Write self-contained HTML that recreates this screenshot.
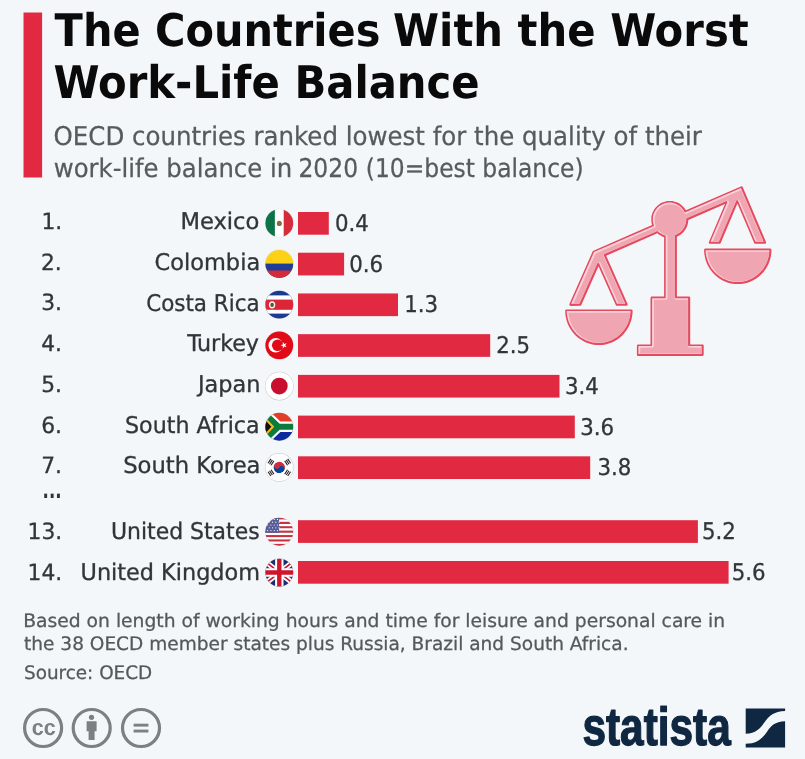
<!DOCTYPE html>
<html lang="en"><head><meta charset="utf-8"><title>The Countries With the Worst Work-Life Balance</title>
<style>html,body{margin:0;padding:0;background:#f4f7fa;}svg{display:block}text{white-space:pre}</style></head>
<body>
<svg width="805" height="759" viewBox="0 0 805 759">
<rect width="805" height="759" fill="#f4f7fa"/>
<rect x="23.5" y="12.5" width="18.6" height="165" fill="#e12a42"/>
<rect x="298.0" y="212.00" width="30.8" height="22.7" fill="#e12a42"/>
<rect x="298.0" y="252.72" width="46.1" height="22.7" fill="#e12a42"/>
<rect x="298.0" y="293.44" width="100.0" height="22.7" fill="#e12a42"/>
<rect x="298.0" y="334.16" width="192.2" height="22.7" fill="#e12a42"/>
<rect x="298.0" y="374.88" width="261.5" height="22.7" fill="#e12a42"/>
<rect x="298.0" y="415.60" width="276.8" height="22.7" fill="#e12a42"/>
<rect x="298.0" y="456.32" width="292.2" height="22.7" fill="#e12a42"/>
<rect x="298.0" y="520.20" width="399.9" height="22.7" fill="#e12a42"/>
<rect x="298.0" y="561.00" width="430.6" height="22.7" fill="#e12a42"/>
<clipPath id="fc0"><circle cx="279.3" cy="223.15" r="13.9"/></clipPath><circle cx="279.3" cy="223.15" r="14.35" fill="#e0e4e7"/><g clip-path="url(#fc0)"><rect x="264.95" y="208.8" width="28.7" height="28.7" fill="#fff"/><rect x="264.95" y="208.8" width="9.9" height="28.7" fill="#0b7347"/><rect x="283.7" y="208.8" width="10" height="28.7" fill="#d52b3a"/><ellipse cx="279.3" cy="223.45000000000002" rx="2.5" ry="2.6" fill="#8a6a3a"/></g>
<clipPath id="fc1"><circle cx="279.3" cy="263.87" r="13.9"/></clipPath><circle cx="279.3" cy="263.87" r="14.35" fill="#e0e4e7"/><g clip-path="url(#fc1)"><rect x="264.95" y="249.52" width="28.7" height="28.7" fill="#fcd116"/><rect x="264.95" y="263.6" width="28.7" height="15.35" fill="#1f3d99"/><rect x="264.95" y="270.5" width="28.7" height="14.35" fill="#d42b3b"/></g>
<clipPath id="fc2"><circle cx="279.3" cy="304.59000000000003" r="13.9"/></clipPath><circle cx="279.3" cy="304.59000000000003" r="14.35" fill="#e0e4e7"/><g clip-path="url(#fc2)"><rect x="264.95" y="290.24" width="28.7" height="28.7" fill="#1b3a91"/><rect x="264.95" y="295.4" width="28.7" height="18.2" fill="#fff"/><rect x="264.95" y="299.6" width="28.7" height="10.2" fill="#dc2638"/><ellipse cx="272.1" cy="304.8" rx="3.2" ry="3.6" fill="#f3f3ee"/><ellipse cx="272.1" cy="304.9" rx="1.8" ry="2.1" fill="#4a5a3a"/></g>
<clipPath id="fc3"><circle cx="279.3" cy="345.31" r="13.9"/></clipPath><circle cx="279.3" cy="345.31" r="14.35" fill="#e0e4e7"/><g clip-path="url(#fc3)"><rect x="264.95" y="330.96" width="28.7" height="28.7" fill="#e30a17"/><circle cx="275.7" cy="345.31" r="7.2" fill="#fff"/><circle cx="277.7" cy="345.31" r="5.8" fill="#e30a17"/><polygon transform="translate(283.9,345.31) scale(3.4) rotate(-18)" points="0,-1 0.2245,-0.309 0.951,-0.309 0.363,0.118 0.588,0.809 0,0.382 -0.588,0.809 -0.363,0.118 -0.951,-0.309 -0.2245,-0.309" fill="#fff"/></g>
<clipPath id="fc4"><circle cx="279.3" cy="386.03000000000003" r="13.9"/></clipPath><circle cx="279.3" cy="386.03000000000003" r="14.35" fill="#c4c9cd"/><g clip-path="url(#fc4)"><rect x="264.95" y="371.68" width="28.7" height="28.7" fill="#fff"/><circle cx="279.3" cy="386.03000000000003" r="8.4" fill="#c8102e"/></g>
<clipPath id="fc5"><circle cx="279.3" cy="426.75000000000006" r="13.9"/></clipPath><circle cx="279.3" cy="426.75000000000006" r="14.35" fill="#e0e4e7"/><g clip-path="url(#fc5)"><rect x="264.95" y="412.40000000000003" width="28.7" height="14.35" fill="#e23d28"/><rect x="264.95" y="426.75000000000006" width="28.7" height="14.35" fill="#0c2c9c"/><path d="M258.95,408.40000000000003 L278.3,426.75000000000006 L258.95,445.1 M278.3,426.75000000000006 H295.65" stroke="#fff" stroke-width="10.5" fill="none"/><path d="M258.95,408.40000000000003 L278.3,426.75000000000006 L258.95,445.1 M278.3,426.75000000000006 H295.65" stroke="#0a7a3d" stroke-width="6.2" fill="none"/><path d="M262.95,415.90000000000003 L272.8,426.75000000000006 L262.95,437.6 Z" fill="#111" stroke="#fdb913" stroke-width="2"/></g>
<clipPath id="fc6"><circle cx="279.3" cy="467.47" r="13.9"/></clipPath><circle cx="279.3" cy="467.47" r="14.35" fill="#c4c9cd"/><g clip-path="url(#fc6)"><rect x="264.95" y="453.12" width="28.7" height="28.7" fill="#fff"/><g transform="rotate(33 279.3 467.47)"><path d="M273.7,467.47 a5.6,5.6 0 0 1 11.2,0 z" fill="#cd2e3a"/><path d="M273.7,467.47 a5.6,5.6 0 0 0 11.2,0 z" fill="#0047a0"/><circle cx="276.5" cy="467.47" r="2.8" fill="#cd2e3a"/><circle cx="282.1" cy="467.47" r="2.8" fill="#0047a0"/></g><g transform="rotate(33 279.3 467.47)"><rect x="286.90000000000003" y="464.87" width="1.1" height="5.2" fill="#222"/><rect x="288.7" y="464.87" width="1.1" height="5.2" fill="#222"/><rect x="290.5" y="464.87" width="1.1" height="5.2" fill="#222"/></g><g transform="rotate(147 279.3 467.47)"><rect x="286.90000000000003" y="464.87" width="1.1" height="5.2" fill="#222"/><rect x="288.7" y="464.87" width="1.1" height="5.2" fill="#222"/><rect x="290.5" y="464.87" width="1.1" height="5.2" fill="#222"/></g><g transform="rotate(213 279.3 467.47)"><rect x="286.90000000000003" y="464.87" width="1.1" height="5.2" fill="#222"/><rect x="288.7" y="464.87" width="1.1" height="5.2" fill="#222"/><rect x="290.5" y="464.87" width="1.1" height="5.2" fill="#222"/></g><g transform="rotate(327 279.3 467.47)"><rect x="286.90000000000003" y="464.87" width="1.1" height="5.2" fill="#222"/><rect x="288.7" y="464.87" width="1.1" height="5.2" fill="#222"/><rect x="290.5" y="464.87" width="1.1" height="5.2" fill="#222"/></g></g>
<clipPath id="fc7"><circle cx="279.3" cy="531.75" r="13.9"/></clipPath><circle cx="279.3" cy="531.75" r="14.35" fill="#e0e4e7"/><g clip-path="url(#fc7)"><rect x="264.95" y="517.40" width="28.7" height="2.21" fill="#c8313e"/><rect x="264.95" y="519.61" width="28.7" height="2.21" fill="#fff"/><rect x="264.95" y="521.82" width="28.7" height="2.21" fill="#c8313e"/><rect x="264.95" y="524.02" width="28.7" height="2.21" fill="#fff"/><rect x="264.95" y="526.23" width="28.7" height="2.21" fill="#c8313e"/><rect x="264.95" y="528.44" width="28.7" height="2.21" fill="#fff"/><rect x="264.95" y="530.65" width="28.7" height="2.21" fill="#c8313e"/><rect x="264.95" y="532.85" width="28.7" height="2.21" fill="#fff"/><rect x="264.95" y="535.06" width="28.7" height="2.21" fill="#c8313e"/><rect x="264.95" y="537.27" width="28.7" height="2.21" fill="#fff"/><rect x="264.95" y="539.48" width="28.7" height="2.21" fill="#c8313e"/><rect x="264.95" y="541.68" width="28.7" height="2.21" fill="#fff"/><rect x="264.95" y="543.89" width="28.7" height="2.21" fill="#c8313e"/><rect x="264.95" y="517.4" width="14.15" height="15.45" fill="#585c99"/><circle cx="267.6" cy="519.4" r="0.6" fill="#fff"/><circle cx="270.9" cy="519.4" r="0.6" fill="#fff"/><circle cx="274.2" cy="519.4" r="0.6" fill="#fff"/><circle cx="277.4" cy="519.4" r="0.6" fill="#fff"/><circle cx="269.2" cy="522.2" r="0.6" fill="#fff"/><circle cx="272.5" cy="522.2" r="0.6" fill="#fff"/><circle cx="275.8" cy="522.2" r="0.6" fill="#fff"/><circle cx="279.1" cy="522.2" r="0.6" fill="#fff"/><circle cx="267.6" cy="525.0" r="0.6" fill="#fff"/><circle cx="270.9" cy="525.0" r="0.6" fill="#fff"/><circle cx="274.2" cy="525.0" r="0.6" fill="#fff"/><circle cx="277.4" cy="525.0" r="0.6" fill="#fff"/><circle cx="269.2" cy="527.8" r="0.6" fill="#fff"/><circle cx="272.5" cy="527.8" r="0.6" fill="#fff"/><circle cx="275.8" cy="527.8" r="0.6" fill="#fff"/><circle cx="279.1" cy="527.8" r="0.6" fill="#fff"/><circle cx="267.6" cy="530.6" r="0.6" fill="#fff"/><circle cx="270.9" cy="530.6" r="0.6" fill="#fff"/><circle cx="274.2" cy="530.6" r="0.6" fill="#fff"/><circle cx="277.4" cy="530.6" r="0.6" fill="#fff"/></g>
<clipPath id="fc8"><circle cx="279.3" cy="572.55" r="13.9"/></clipPath><circle cx="279.3" cy="572.55" r="14.35" fill="#e0e4e7"/><g clip-path="url(#fc8)"><rect x="264.95" y="558.1999999999999" width="28.7" height="28.7" fill="#1b2d6e"/><path d="M264.95,561.1999999999999 L293.65,583.9 M293.65,561.1999999999999 L264.95,583.9" stroke="#fff" stroke-width="5.2"/><path d="M264.95,561.1999999999999 L293.65,583.9 M293.65,561.1999999999999 L264.95,583.9" stroke="#d0142c" stroke-width="1.6"/><path d="M279.3,558.1999999999999 V586.9 M264.95,572.55 H293.65" stroke="#fff" stroke-width="8.4"/><path d="M279.3,558.1999999999999 V586.9 M264.95,572.55 H293.65" stroke="#d0142c" stroke-width="4.4"/></g>
<g id="scale" fill-rule="evenodd"><path d="M593.4,250.7 L593.0,251.0 L592.7,251.3 L569.4,304.0 L569.3,304.6 L569.5,305.2 L570.0,305.7 L570.7,305.9 L580.2,305.8 L580.7,305.7 L581.2,305.3 L598.5,266.2 L615.9,305.3 L616.3,305.7 L616.9,305.8 L626.6,305.8 L627.2,305.6 L627.6,305.2 L627.7,304.6 L627.6,304.0 L606.2,255.7 L657.4,233.3 L659.1,234.7 L660.7,235.6 L662.3,236.5 L664.1,237.2 L664.1,296.5 L651.8,296.6 L651.4,296.6 L651.1,296.8 L650.7,297.3 L650.5,297.9 L650.5,344.4 L638.2,344.4 L637.8,344.5 L637.4,344.7 L637.0,345.2 L636.9,345.8 L636.9,354.6 L636.9,355.0 L637.1,355.4 L637.4,355.7 L637.8,355.9 L638.2,356.0 L702.4,355.9 L703.0,355.8 L703.3,355.6 L703.6,355.2 L703.7,354.7 L703.7,345.8 L703.6,345.2 L703.3,344.8 L703.0,344.6 L702.4,344.5 L690.2,344.4 L690.2,297.9 L690.1,297.3 L689.7,296.8 L689.4,296.6 L689.0,296.6 L676.9,296.5 L676.9,236.7 L678.1,236.1 L679.3,235.4 L680.5,234.7 L681.6,233.8 L682.6,232.9 L683.5,232.0 L685.2,229.8 L685.9,228.6 L686.6,227.4 L687.5,224.9 L687.9,223.6 L688.1,222.2 L688.3,219.9 L725.0,203.9 L708.8,242.3 L708.8,242.8 L709.0,243.3 L709.4,243.7 L709.9,243.8 L719.4,243.8 L720.1,243.7 L720.4,243.4 L720.7,243.0 L737.4,203.5 L754.3,243.3 L754.7,243.7 L755.3,243.8 L764.8,243.8 L765.3,243.7 L765.7,243.4 L766.0,243.0 L766.1,242.4 L766.0,242.0 L742.7,187.1 L742.5,186.7 L742.2,186.5 L741.8,186.3 L741.4,186.3 L740.9,186.4 L685.9,210.3 L685.0,208.8 L683.9,207.4 L682.9,206.4 L681.6,205.2 L680.1,204.1 L678.6,203.1 L677.3,202.5 L675.6,201.9 L673.9,201.4 L672.5,201.1 L670.7,201.0 L668.9,201.0 L667.1,201.1 L665.7,201.4 L664.0,201.9 L662.3,202.5 L661.0,203.1 L659.5,204.1 L658.0,205.2 L656.7,206.4 L655.5,207.7 L654.6,208.8 L653.7,210.4 L652.8,212.0 L652.3,213.3 L651.8,215.0 L651.4,216.8 L651.3,218.6 L651.3,220.0 L651.4,221.8 L651.7,223.5 L652.1,225.1Z" fill="#e54a5f"/><path d="M571.1,303.8 L579.4,303.8 L597.3,263.5 L597.7,263.0 L598.2,262.9 L598.7,263.0 L599.1,263.5 L617.0,303.8 L625.3,303.8 L603.9,255.4 L603.8,255.0 L603.9,254.7 L604.1,254.3 L604.4,254.1 L656.9,231.2 L657.3,231.1 L657.7,231.2 L659.6,232.7 L661.3,233.8 L663.1,234.7 L665.2,235.5 L665.5,235.8 L665.7,236.2 L665.7,297.4 L665.4,297.9 L665.2,298.1 L664.8,298.2 L652.1,298.2 L652.1,345.3 L651.8,345.8 L651.6,346.0 L651.2,346.1 L638.4,346.1 L638.4,353.9 L701.6,353.9 L701.6,346.1 L689.0,346.1 L688.6,346.0 L688.4,345.8 L688.1,345.3 L688.1,298.2 L675.6,298.2 L675.2,298.1 L675.0,297.9 L674.7,297.4 L674.7,235.7 L674.9,235.3 L675.2,235.0 L676.6,234.4 L677.7,233.8 L679.1,233.0 L680.1,232.2 L681.9,230.5 L683.4,228.6 L684.6,226.4 L685.5,224.1 L686.0,221.8 L686.2,220.5 L686.2,218.9 L686.4,218.6 L686.6,218.3 L725.9,201.2 L726.5,201.1 L726.9,201.3 L727.1,201.6 L727.3,202.0 L727.2,202.5 L710.5,241.8 L718.8,241.8 L736.2,200.7 L736.3,200.5 L736.6,200.2 L737.2,200.1 L737.7,200.3 L738.0,200.7 L755.4,241.8 L763.7,241.8 L740.9,188.1 L685.5,212.2 L685.0,212.2 L684.5,211.9 L683.4,210.0 L682.4,208.7 L681.0,207.2 L679.8,206.1 L678.4,205.2 L677.0,204.4 L675.5,203.7 L674.0,203.2 L672.4,202.8 L670.7,202.6 L668.7,202.6 L667.0,202.8 L665.0,203.2 L663.5,203.7 L662.0,204.4 L660.2,205.4 L659.2,206.1 L658.0,207.2 L657.1,208.1 L656.1,209.4 L655.4,210.4 L654.6,211.8 L653.6,214.1 L653.0,216.4 L652.8,218.9 L652.8,220.5 L653.0,222.2 L653.3,223.4 L653.9,225.3 L653.8,225.8 L653.4,226.2 L594.0,252.1Z" fill="#f9d3d9"/><path d="M579.6,303.4 L597.2,263.6 L597.5,263.1 L597.9,262.7 L598.4,262.5 L599.0,262.4 L599.6,262.5 L600.1,262.7 L600.5,263.1 L600.8,263.6 L618.5,303.4 L624.6,303.4 L603.8,256.4 L603.6,255.6 L603.6,255.2 L603.8,254.7 L604.3,254.0 L604.8,253.7 L657.3,230.8 L658.1,230.7 L658.8,230.8 L659.3,231.1 L661.3,232.7 L662.6,233.5 L664.3,234.4 L666.6,235.2 L667.2,235.8 L667.3,236.1 L667.5,236.7 L667.5,298.1 L667.3,298.7 L666.9,299.2 L666.4,299.5 L665.7,299.7 L653.9,299.8 L653.9,345.7 L653.8,346.2 L653.6,346.8 L653.2,347.2 L652.7,347.5 L652.1,347.6 L640.2,347.7 L640.2,353.5 L701.4,353.5 L701.4,347.7 L689.7,347.6 L689.1,347.5 L688.6,347.2 L688.2,346.8 L688.0,346.2 L687.9,345.7 L687.9,299.8 L676.3,299.7 L675.6,299.5 L675.1,299.2 L674.7,298.7 L674.5,298.1 L674.5,236.0 L674.9,235.3 L675.3,234.8 L677.4,233.9 L678.4,233.3 L679.6,232.5 L680.6,231.7 L681.9,230.4 L683.4,228.6 L684.3,226.9 L685.2,224.8 L685.5,223.7 L685.8,222.2 L686.1,219.1 L686.4,218.4 L686.9,218.0 L726.3,200.8 L726.8,200.6 L727.4,200.7 L728.2,201.0 L728.7,201.5 L729.0,202.2 L729.1,202.6 L729.0,203.2 L712.9,241.3 L718.9,241.3 L736.1,200.9 L736.4,200.4 L737.0,199.9 L737.5,199.7 L738.1,199.7 L738.7,199.8 L739.0,200.0 L739.4,200.4 L739.7,200.9 L756.9,241.3 L763.0,241.3 L741.2,189.9 L686.5,213.7 L685.9,213.8 L685.5,213.7 L685.1,213.5 L684.6,213.2 L683.4,211.1 L682.4,209.9 L681.1,208.5 L679.7,207.2 L678.7,206.6 L677.4,205.8 L676.0,205.2 L674.5,204.7 L672.6,204.3 L671.1,204.2 L669.5,204.2 L667.6,204.4 L666.1,204.7 L664.3,205.3 L662.6,206.2 L661.3,207.0 L659.5,208.5 L658.7,209.3 L657.7,210.5 L657.0,211.4 L656.3,212.8 L655.8,213.8 L655.3,215.3 L655.0,216.4 L654.7,217.9 L654.6,220.2 L654.8,222.5 L655.2,224.0 L655.6,225.4 L655.7,226.0 L655.6,226.4 L655.4,226.9 L654.8,227.5 L595.6,253.4 L573.5,303.4Z" fill="#f0a6b2"/><path d="M565.2,311.1 L565.4,314.5 L566.0,317.9 L566.8,321.2 L568.0,324.4 L569.5,327.4 L571.3,330.3 L573.3,333.0 L575.6,335.4 L578.1,337.7 L580.8,339.6 L583.7,341.3 L586.0,342.4 L589.1,343.6 L592.3,344.4 L595.6,344.9 L598.9,345.0 L602.2,344.9 L605.5,344.4 L608.7,343.6 L611.8,342.4 L614.8,340.9 L617.7,339.2 L620.3,337.2 L622.8,334.9 L625.0,332.3 L627.0,329.6 L628.7,326.7 L630.1,323.6 L631.2,320.4 L632.0,317.1 L632.5,313.7 L632.6,310.8 L632.6,310.3 L632.3,309.9 L631.9,309.6 L631.3,309.4 L566.5,309.4 L565.9,309.6 L565.4,310.0 L565.2,310.5Z" fill="#e54a5f"/><path d="M566.7,311.1 L566.9,314.1 L567.5,317.3 L568.3,320.4 L569.4,323.4 L570.9,326.3 L572.5,329.1 L574.5,331.6 L576.6,333.9 L578.4,335.5 L580.9,337.5 L583.6,339.1 L586.4,340.5 L589.3,341.6 L592.4,342.4 L595.5,342.8 L598.6,343.0 L601.7,342.8 L604.8,342.4 L607.9,341.6 L610.8,340.5 L613.6,339.1 L616.3,337.5 L618.8,335.5 L620.6,333.9 L622.7,331.6 L624.7,329.1 L626.3,326.3 L627.8,323.4 L628.9,320.4 L629.7,317.3 L630.3,314.1 L630.5,311.1Z" fill="#f9d3d9"/><path d="M568.6,312.7 L568.8,315.3 L569.4,318.4 L570.3,321.4 L571.5,324.3 L572.5,326.4 L574.1,329.0 L576.0,331.5 L578.1,333.8 L579.8,335.3 L582.3,337.2 L584.9,338.8 L587.6,340.1 L590.4,341.2 L593.4,341.9 L596.4,342.4 L599.4,342.5 L602.4,342.4 L605.4,341.9 L608.3,341.2 L611.2,340.1 L613.9,338.8 L616.5,337.2 L619.0,335.3 L620.7,333.8 L622.8,331.5 L624.6,329.0 L626.3,326.4 L627.3,324.3 L628.5,321.4 L629.4,318.4 L630.0,315.3 L630.2,312.7Z" fill="#f0a6b2"/><path d="M704.1,250.2 L704.3,253.6 L704.9,257.0 L705.7,260.3 L706.9,263.5 L708.4,266.5 L710.2,269.4 L712.2,272.1 L714.5,274.5 L717.0,276.8 L719.7,278.7 L722.6,280.4 L724.9,281.5 L728.0,282.7 L731.2,283.5 L734.5,284.0 L737.8,284.1 L741.1,284.0 L744.4,283.5 L747.6,282.7 L750.7,281.5 L753.7,280.0 L756.6,278.3 L759.2,276.3 L761.7,274.0 L763.9,271.4 L765.9,268.7 L767.6,265.8 L769.0,262.7 L770.1,259.5 L770.9,256.2 L771.4,252.8 L771.5,249.9 L771.5,249.4 L771.2,249.0 L770.8,248.7 L770.2,248.6 L705.4,248.6 L704.8,248.7 L704.3,249.1 L704.1,249.6Z" fill="#e54a5f"/><path d="M705.6,250.2 L705.8,253.2 L706.4,256.4 L707.2,259.5 L708.3,262.5 L709.8,265.4 L711.4,268.2 L713.4,270.7 L715.5,273.0 L717.3,274.6 L719.8,276.6 L722.5,278.2 L725.3,279.6 L728.2,280.7 L731.3,281.5 L734.4,281.9 L737.5,282.1 L740.6,281.9 L743.7,281.5 L746.8,280.7 L749.7,279.6 L752.5,278.2 L755.2,276.6 L757.7,274.6 L759.5,273.0 L761.6,270.7 L763.6,268.2 L765.2,265.4 L766.7,262.5 L767.8,259.5 L768.6,256.4 L769.2,253.2 L769.4,250.2Z" fill="#f9d3d9"/><path d="M707.5,251.8 L707.7,254.4 L708.3,257.5 L709.2,260.5 L710.4,263.4 L711.4,265.5 L713.0,268.1 L714.9,270.6 L717.0,272.9 L718.7,274.4 L721.2,276.3 L723.8,277.9 L726.5,279.2 L729.3,280.3 L732.3,281.0 L735.3,281.5 L738.3,281.6 L741.3,281.5 L744.3,281.0 L747.2,280.3 L750.1,279.2 L752.8,277.9 L755.4,276.3 L757.9,274.4 L759.6,272.9 L761.7,270.6 L763.5,268.1 L765.2,265.5 L766.2,263.4 L767.4,260.5 L768.3,257.5 L768.9,254.4 L769.1,251.8Z" fill="#f0a6b2"/></g>
<circle cx="43.1" cy="728" r="18.5" fill="none" stroke="#7b8080" stroke-width="3.2"/><circle cx="91.7" cy="728" r="18.5" fill="none" stroke="#7b8080" stroke-width="3.2"/><circle cx="141.0" cy="728" r="18.5" fill="none" stroke="#7b8080" stroke-width="3.2"/><circle cx="91.5" cy="717.3" r="2.6" fill="#7b8080"/><path d="M86.6,721.3 H96.6 V731.2 H94.6 V740 H88.6 V731.2 H86.6 Z" fill="#7b8080"/><rect x="133.6" y="723.7" width="14.8" height="2.9" fill="#7b8080"/><rect x="133.6" y="729.6" width="14.8" height="2.9" fill="#7b8080"/>
<g transform="translate(745.7,708.4)"><path d="M0,0 H39.4 V2.5 C28,3 24.5,7 20.5,11.5 C16,17.5 12,25.3 0,25.3 Z" fill="#0f2741"/><path d="M39.4,39.1 H0 V35.3 C12,35.3 17.5,29 21.5,23 C25.5,17.5 29,13.2 39.4,12.9 Z" fill="#0f2741"/></g>
<g id="texts" text-rendering="geometricPrecision">
<text id="t1a" x="54.60" y="46.00" textLength="325.77" lengthAdjust="spacingAndGlyphs" font-family="'DejaVu Sans Condensed','DejaVu Sans','Liberation Sans',sans-serif" font-size="45" font-weight="bold" fill="#0a0a0a">The Countries</text>
<text id="t1b" x="393.00" y="46.00" textLength="355.74" lengthAdjust="spacingAndGlyphs" font-family="'DejaVu Sans Condensed','DejaVu Sans','Liberation Sans',sans-serif" font-size="45" font-weight="bold" fill="#0a0a0a">With the Worst</text>
<text id="t2" x="53.60" y="98.10" textLength="426.12" lengthAdjust="spacingAndGlyphs" font-family="'DejaVu Sans Condensed','DejaVu Sans','Liberation Sans',sans-serif" font-size="45" font-weight="bold" fill="#0a0a0a">Work-Life Balance</text>
<text id="s1" x="53.60" y="144.80" textLength="648.34" lengthAdjust="spacingAndGlyphs" font-family="'DejaVu Sans Condensed','DejaVu Sans','Liberation Sans',sans-serif" font-size="25.8" font-weight="normal" fill="#555b5f" stroke="#555b5f" stroke-width="0.25" stroke-linejoin="round">OECD countries ranked lowest for the quality of their</text>
<text id="s2a" x="53.80" y="177.10" textLength="238.37" lengthAdjust="spacingAndGlyphs" font-family="'DejaVu Sans Condensed','DejaVu Sans','Liberation Sans',sans-serif" font-size="25.8" font-weight="normal" fill="#555b5f" stroke="#555b5f" stroke-width="0.25" stroke-linejoin="round">work-life balance in</text>
<text id="s2b" x="298.40" y="177.10" textLength="59.71" lengthAdjust="spacingAndGlyphs" font-family="'DejaVu Sans Condensed','DejaVu Sans','Liberation Sans',sans-serif" font-size="25.8" font-weight="normal" fill="#555b5f" stroke="#555b5f" stroke-width="0.25" stroke-linejoin="round">2020</text>
<text id="s2c" x="365.80" y="177.10" textLength="217.79" lengthAdjust="spacingAndGlyphs" font-family="'DejaVu Sans Condensed','DejaVu Sans','Liberation Sans',sans-serif" font-size="25.8" font-weight="normal" fill="#555b5f" stroke="#555b5f" stroke-width="0.25" stroke-linejoin="round">(10=best balance)</text>
<text id="r0" x="41.40" y="229.00" textLength="20.76" lengthAdjust="spacingAndGlyphs" font-family="'DejaVu Sans Condensed','DejaVu Sans','Liberation Sans',sans-serif" font-size="22.4" font-weight="normal" fill="#30353a" stroke="#30353a" stroke-width="0.3" stroke-linejoin="round">1.</text>
<text id="n0" x="180.40" y="229.10" textLength="78.93" lengthAdjust="spacingAndGlyphs" font-family="'DejaVu Sans Condensed','DejaVu Sans','Liberation Sans',sans-serif" font-size="23" font-weight="normal" fill="#30353a" stroke="#30353a" stroke-width="0.3" stroke-linejoin="round">Mexico</text>
<text id="v0" x="335.00" y="230.90" textLength="33.87" lengthAdjust="spacingAndGlyphs" font-family="'DejaVu Sans Condensed','DejaVu Sans','Liberation Sans',sans-serif" font-size="23" font-weight="normal" fill="#30353a" stroke="#30353a" stroke-width="0.3" stroke-linejoin="round">0.4</text>
<text id="r1" x="41.00" y="269.72" textLength="20.76" lengthAdjust="spacingAndGlyphs" font-family="'DejaVu Sans Condensed','DejaVu Sans','Liberation Sans',sans-serif" font-size="22.4" font-weight="normal" fill="#30353a" stroke="#30353a" stroke-width="0.3" stroke-linejoin="round">2.</text>
<text id="n1" x="154.60" y="269.82" textLength="105.55" lengthAdjust="spacingAndGlyphs" font-family="'DejaVu Sans Condensed','DejaVu Sans','Liberation Sans',sans-serif" font-size="23" font-weight="normal" fill="#30353a" stroke="#30353a" stroke-width="0.3" stroke-linejoin="round">Colombia</text>
<text id="v1" x="349.20" y="271.62" textLength="33.87" lengthAdjust="spacingAndGlyphs" font-family="'DejaVu Sans Condensed','DejaVu Sans','Liberation Sans',sans-serif" font-size="23" font-weight="normal" fill="#30353a" stroke="#30353a" stroke-width="0.3" stroke-linejoin="round">0.6</text>
<text id="r2" x="41.20" y="310.44" textLength="20.76" lengthAdjust="spacingAndGlyphs" font-family="'DejaVu Sans Condensed','DejaVu Sans','Liberation Sans',sans-serif" font-size="22.4" font-weight="normal" fill="#30353a" stroke="#30353a" stroke-width="0.3" stroke-linejoin="round">3.</text>
<text id="n2" x="146.20" y="310.54" textLength="113.43" lengthAdjust="spacingAndGlyphs" font-family="'DejaVu Sans Condensed','DejaVu Sans','Liberation Sans',sans-serif" font-size="23" font-weight="normal" fill="#30353a" stroke="#30353a" stroke-width="0.3" stroke-linejoin="round">Costa Rica</text>
<text id="v2" x="404.20" y="312.34" textLength="33.87" lengthAdjust="spacingAndGlyphs" font-family="'DejaVu Sans Condensed','DejaVu Sans','Liberation Sans',sans-serif" font-size="23" font-weight="normal" fill="#30353a" stroke="#30353a" stroke-width="0.3" stroke-linejoin="round">1.3</text>
<text id="r3" x="41.20" y="351.16" textLength="20.76" lengthAdjust="spacingAndGlyphs" font-family="'DejaVu Sans Condensed','DejaVu Sans','Liberation Sans',sans-serif" font-size="22.4" font-weight="normal" fill="#30353a" stroke="#30353a" stroke-width="0.3" stroke-linejoin="round">4.</text>
<text id="n3" x="187.20" y="351.26" textLength="71.80" lengthAdjust="spacingAndGlyphs" font-family="'DejaVu Sans Condensed','DejaVu Sans','Liberation Sans',sans-serif" font-size="23" font-weight="normal" fill="#30353a" stroke="#30353a" stroke-width="0.3" stroke-linejoin="round">Turkey</text>
<text id="v3" x="496.20" y="353.06" textLength="33.87" lengthAdjust="spacingAndGlyphs" font-family="'DejaVu Sans Condensed','DejaVu Sans','Liberation Sans',sans-serif" font-size="23" font-weight="normal" fill="#30353a" stroke="#30353a" stroke-width="0.3" stroke-linejoin="round">2.5</text>
<text id="r4" x="41.20" y="391.88" textLength="20.76" lengthAdjust="spacingAndGlyphs" font-family="'DejaVu Sans Condensed','DejaVu Sans','Liberation Sans',sans-serif" font-size="22.4" font-weight="normal" fill="#30353a" stroke="#30353a" stroke-width="0.3" stroke-linejoin="round">5.</text>
<text id="n4" x="198.00" y="391.98" textLength="62.50" lengthAdjust="spacingAndGlyphs" font-family="'DejaVu Sans Condensed','DejaVu Sans','Liberation Sans',sans-serif" font-size="23" font-weight="normal" fill="#30353a" stroke="#30353a" stroke-width="0.3" stroke-linejoin="round">Japan</text>
<text id="v4" x="565.00" y="393.78" textLength="33.87" lengthAdjust="spacingAndGlyphs" font-family="'DejaVu Sans Condensed','DejaVu Sans','Liberation Sans',sans-serif" font-size="23" font-weight="normal" fill="#30353a" stroke="#30353a" stroke-width="0.3" stroke-linejoin="round">3.4</text>
<text id="r5" x="41.20" y="432.60" textLength="20.76" lengthAdjust="spacingAndGlyphs" font-family="'DejaVu Sans Condensed','DejaVu Sans','Liberation Sans',sans-serif" font-size="22.4" font-weight="normal" fill="#30353a" stroke="#30353a" stroke-width="0.3" stroke-linejoin="round">6.</text>
<text id="n5" x="125.00" y="432.70" textLength="134.62" lengthAdjust="spacingAndGlyphs" font-family="'DejaVu Sans Condensed','DejaVu Sans','Liberation Sans',sans-serif" font-size="23" font-weight="normal" fill="#30353a" stroke="#30353a" stroke-width="0.3" stroke-linejoin="round">South Africa</text>
<text id="v5" x="580.20" y="434.50" textLength="33.87" lengthAdjust="spacingAndGlyphs" font-family="'DejaVu Sans Condensed','DejaVu Sans','Liberation Sans',sans-serif" font-size="23" font-weight="normal" fill="#30353a" stroke="#30353a" stroke-width="0.3" stroke-linejoin="round">3.6</text>
<text id="r6" x="41.20" y="473.32" textLength="20.76" lengthAdjust="spacingAndGlyphs" font-family="'DejaVu Sans Condensed','DejaVu Sans','Liberation Sans',sans-serif" font-size="22.4" font-weight="normal" fill="#30353a" stroke="#30353a" stroke-width="0.3" stroke-linejoin="round">7.</text>
<text id="n6" x="123.20" y="473.42" textLength="137.32" lengthAdjust="spacingAndGlyphs" font-family="'DejaVu Sans Condensed','DejaVu Sans','Liberation Sans',sans-serif" font-size="23" font-weight="normal" fill="#30353a" stroke="#30353a" stroke-width="0.3" stroke-linejoin="round">South Korea</text>
<text id="v6" x="597.40" y="475.22" textLength="33.87" lengthAdjust="spacingAndGlyphs" font-family="'DejaVu Sans Condensed','DejaVu Sans','Liberation Sans',sans-serif" font-size="23" font-weight="normal" fill="#30353a" stroke="#30353a" stroke-width="0.3" stroke-linejoin="round">3.8</text>
<text id="r7" x="27.60" y="539.00" textLength="34.59" lengthAdjust="spacingAndGlyphs" font-family="'DejaVu Sans Condensed','DejaVu Sans','Liberation Sans',sans-serif" font-size="22.4" font-weight="normal" fill="#30353a" stroke="#30353a" stroke-width="0.3" stroke-linejoin="round">13.</text>
<text id="n7" x="111.00" y="539.10" textLength="148.56" lengthAdjust="spacingAndGlyphs" font-family="'DejaVu Sans Condensed','DejaVu Sans','Liberation Sans',sans-serif" font-size="23" font-weight="normal" fill="#30353a" stroke="#30353a" stroke-width="0.3" stroke-linejoin="round">United States</text>
<text id="v7" x="702.00" y="539.30" textLength="33.87" lengthAdjust="spacingAndGlyphs" font-family="'DejaVu Sans Condensed','DejaVu Sans','Liberation Sans',sans-serif" font-size="23" font-weight="normal" fill="#30353a" stroke="#30353a" stroke-width="0.3" stroke-linejoin="round">5.2</text>
<text id="r8" x="27.60" y="579.80" textLength="34.59" lengthAdjust="spacingAndGlyphs" font-family="'DejaVu Sans Condensed','DejaVu Sans','Liberation Sans',sans-serif" font-size="22.4" font-weight="normal" fill="#30353a" stroke="#30353a" stroke-width="0.3" stroke-linejoin="round">14.</text>
<text id="n8" x="80.60" y="579.90" textLength="179.38" lengthAdjust="spacingAndGlyphs" font-family="'DejaVu Sans Condensed','DejaVu Sans','Liberation Sans',sans-serif" font-size="23" font-weight="normal" fill="#30353a" stroke="#30353a" stroke-width="0.3" stroke-linejoin="round">United Kingdom</text>
<text id="v8" x="731.80" y="580.10" textLength="33.87" lengthAdjust="spacingAndGlyphs" font-family="'DejaVu Sans Condensed','DejaVu Sans','Liberation Sans',sans-serif" font-size="23" font-weight="normal" fill="#30353a" stroke="#30353a" stroke-width="0.3" stroke-linejoin="round">5.6</text>
<text id="dots" x="42.60" y="498.30" textLength="19.01" lengthAdjust="spacingAndGlyphs" font-family="'DejaVu Sans Condensed','DejaVu Sans','Liberation Sans',sans-serif" font-size="23" font-weight="bold" fill="#30353a">...</text>
<text id="f1" x="23.20" y="626.70" textLength="701.95" lengthAdjust="spacingAndGlyphs" font-family="'DejaVu Sans Condensed','DejaVu Sans','Liberation Sans',sans-serif" font-size="18.6" font-weight="normal" fill="#53595d" stroke="#53595d" stroke-width="0.25" stroke-linejoin="round">Based on length of working hours and time for leisure and personal care in</text>
<text id="f2" x="24.00" y="650.40" textLength="604.52" lengthAdjust="spacingAndGlyphs" font-family="'DejaVu Sans Condensed','DejaVu Sans','Liberation Sans',sans-serif" font-size="18.6" font-weight="normal" fill="#53595d" stroke="#53595d" stroke-width="0.25" stroke-linejoin="round">the 38 OECD member states plus Russia, Brazil and South Africa.</text>
<text id="f3" x="24.00" y="679.00" textLength="128.25" lengthAdjust="spacingAndGlyphs" font-family="'DejaVu Sans Condensed','DejaVu Sans','Liberation Sans',sans-serif" font-size="18.6" font-weight="normal" fill="#53595d" stroke="#53595d" stroke-width="0.25" stroke-linejoin="round">Source: OECD</text>
<text id="logo" x="582.40" y="745.20" textLength="148.38" lengthAdjust="spacingAndGlyphs" font-family="'Liberation Sans','DejaVu Sans',sans-serif" font-size="53.5" font-weight="bold" fill="#0f2741" stroke="#0f2741" stroke-width="1.3" stroke-linejoin="round">statista</text>
<text id="cc" x="31.80" y="734.60" textLength="23.99" lengthAdjust="spacingAndGlyphs" font-family="'Liberation Sans','DejaVu Sans',sans-serif" font-size="22.5" font-weight="bold" fill="#7b8080">cc</text>
</g>
</svg>
</body></html>
